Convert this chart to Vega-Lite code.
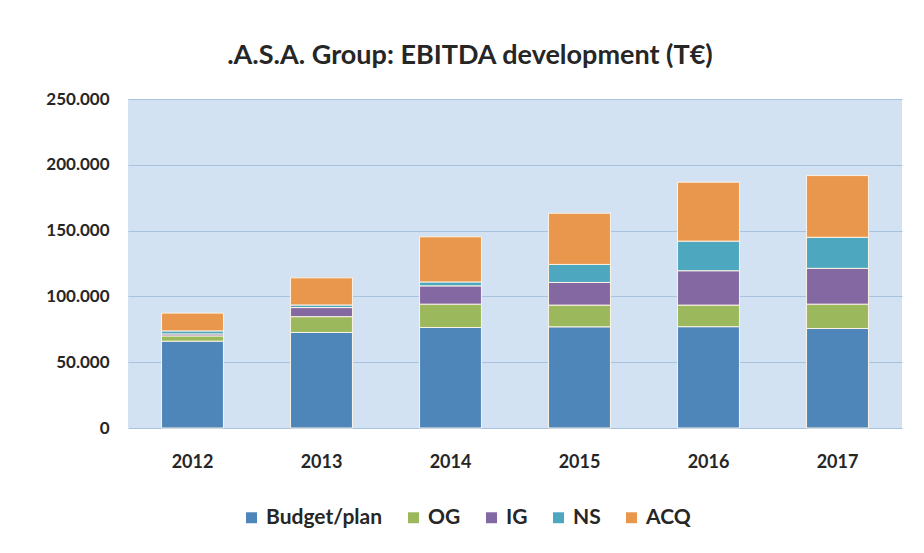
{
  "$schema": "https://vega.github.io/schema/vega-lite/v6.json",
  "autosize": "none",
  "width": 774,
  "height": 329,
  "padding": {"left": 128, "top": 99, "right": 22, "bottom": 125},
  "background": "#FFFFFF",
  "title": {
    "text": ".A.S.A. Group: EBITDA development (T€)",
    "font": "Lato",
    "fontSize": 27,
    "fontWeight": "bold",
    "color": "#262626",
    "anchor": "middle",
    "dx": -45,
    "offset": 20
  },
  "data": {
    "values": [
      {"year": "2012", "segment": "Budget/plan", "i": 0, "value": 66000},
      {"year": "2012", "segment": "OG", "i": 1, "value": 4000},
      {"year": "2012", "segment": "IG", "i": 2, "value": 1500},
      {"year": "2012", "segment": "NS", "i": 3, "value": 2300},
      {"year": "2012", "segment": "ACQ", "i": 4, "value": 13500},
      {"year": "2013", "segment": "Budget/plan", "i": 0, "value": 72600},
      {"year": "2013", "segment": "OG", "i": 1, "value": 12000},
      {"year": "2013", "segment": "IG", "i": 2, "value": 6900},
      {"year": "2013", "segment": "NS", "i": 3, "value": 2000},
      {"year": "2013", "segment": "ACQ", "i": 4, "value": 20600},
      {"year": "2014", "segment": "Budget/plan", "i": 0, "value": 76400},
      {"year": "2014", "segment": "OG", "i": 1, "value": 17700},
      {"year": "2014", "segment": "IG", "i": 2, "value": 13900},
      {"year": "2014", "segment": "NS", "i": 3, "value": 3000},
      {"year": "2014", "segment": "ACQ", "i": 4, "value": 34300},
      {"year": "2015", "segment": "Budget/plan", "i": 0, "value": 76900},
      {"year": "2015", "segment": "OG", "i": 1, "value": 16500},
      {"year": "2015", "segment": "IG", "i": 2, "value": 17200},
      {"year": "2015", "segment": "NS", "i": 3, "value": 13700},
      {"year": "2015", "segment": "ACQ", "i": 4, "value": 38900},
      {"year": "2016", "segment": "Budget/plan", "i": 0, "value": 77000},
      {"year": "2016", "segment": "OG", "i": 1, "value": 16400},
      {"year": "2016", "segment": "IG", "i": 2, "value": 26100},
      {"year": "2016", "segment": "NS", "i": 3, "value": 22500},
      {"year": "2016", "segment": "ACQ", "i": 4, "value": 44800},
      {"year": "2017", "segment": "Budget/plan", "i": 0, "value": 75600},
      {"year": "2017", "segment": "OG", "i": 1, "value": 18500},
      {"year": "2017", "segment": "IG", "i": 2, "value": 27200},
      {"year": "2017", "segment": "NS", "i": 3, "value": 23600},
      {"year": "2017", "segment": "ACQ", "i": 4, "value": 46900}
    ]
  },
  "mark": {"type": "bar", "stroke": "#FBF3E6", "strokeWidth": 1},
  "encoding": {
    "x": {
      "field": "year",
      "type": "ordinal",
      "title": null,
      "scale": {"paddingInner": 0.52, "paddingOuter": 0.26},
      "axis": {
        "domain": false,
        "ticks": false,
        "labelAngle": 0,
        "labelPadding": 25,
        "labelFont": "Lato",
        "labelFontSize": 18,
        "labelFontWeight": "bold",
        "labelColor": "#262626"
      }
    },
    "y": {
      "field": "value",
      "type": "quantitative",
      "stack": "zero",
      "title": null,
      "scale": {"domain": [0, 250000], "nice": false},
      "axis": {
        "values": [0, 50000, 100000, 150000, 200000, 250000],
        "labelExpr": "replace(format(datum.value, ','), ',', '.')",
        "domain": false,
        "ticks": false,
        "labelPadding": 19,
        "labelFont": "Lato",
        "labelFontSize": 17,
        "labelFontWeight": "bold",
        "labelColor": "#262626",
        "gridColor": "#A9C3DF",
        "gridWidth": 1.2
      }
    },
    "color": {
      "field": "segment",
      "type": "nominal",
      "scale": {
        "domain": ["Budget/plan", "OG", "IG", "NS", "ACQ"],
        "range": ["#4F86BA", "#9BB85C", "#8468A2", "#4DA8BF", "#E9974C"]
      },
      "legend": {
        "title": null,
        "orient": "none",
        "direction": "horizontal",
        "legendX": 113,
        "legendY": 408,
        "symbolType": "square",
        "symbolSize": 120,
        "symbolStrokeWidth": 0,
        "labelFont": "Lato",
        "labelFontSize": 21,
        "labelFontWeight": "bold",
        "labelColor": "#262626",
        "labelOffset": 4,
        "columnPadding": 20
      }
    },
    "order": {"field": "i", "type": "quantitative", "sort": "ascending"}
  },
  "config": {
    "view": {"fill": "#D2E2F2", "stroke": null},
    "axis": {"gridColor": "#A9C3DF"}
  }
}
